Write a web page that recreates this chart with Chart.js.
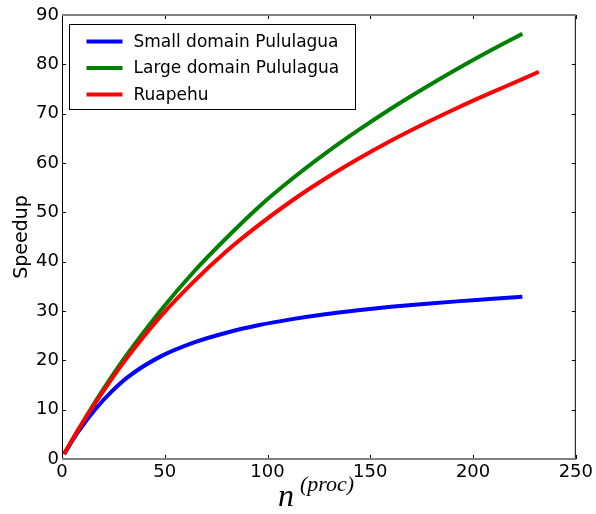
<!DOCTYPE html>
<html>
<head>
<meta charset="utf-8">
<script src="https://cdn.jsdelivr.net/npm/chart.js@4.4.1/dist/chart.umd.min.js"></script>
<style>
  body { margin: 0; background: #fff; }
  canvas { display: block; }
</style>
</head>
<body>
<canvas id="speedupChart" width="596" height="514"></canvas>
<script>
// Speedup against number of processors
const nSmall = [1, 8, 16, 24, 32, 48, 64, 80, 96, 112, 128, 144, 160, 176, 192, 208, 224];
const speedupSmall = [1, 5.6, 10.0, 13.6, 16.6, 20.8, 23.6, 25.6, 27.15, 28.35, 29.35, 30.15, 30.85, 31.43, 31.95, 32.42, 32.9];

const nLarge = [1, 8, 16, 24, 32, 48, 64, 80, 96, 112, 128, 144, 160, 176, 192, 208, 224];
const speedupLarge = [1, 6.0, 11.5, 16.6, 21.4, 30.1, 37.9, 44.8, 51.2, 56.8, 61.9, 66.6, 71.0, 75.1, 79.0, 82.7, 86.2];

const nRuapehu = [1, 8, 16, 24, 32, 48, 64, 80, 96, 112, 128, 144, 160, 176, 192, 208, 224, 232];
const speedupRuapehu = [1, 6.0, 11.2, 16.1, 20.7, 28.9, 35.9, 42.1, 47.5, 52.4, 56.8, 60.8, 64.5, 67.9, 71.1, 74.1, 77.0, 78.5];

const seriesLabels = ['Small domain Pululagua', 'Large domain Pululagua', 'Ruapehu'];
const seriesColors = ['#0000ff', '#008000', '#ff0000'];

const xMax = 250, xStep = 50;
const yMax = 90, yStep = 10;

function toPoints(xs, ys) {
    return xs.map((x, i) => ({ x: x, y: ys[i] }));
}

function makeDataset(idx, xs, ys) {
    return {
        label: seriesLabels[idx],
        data: toPoints(xs, ys),
        borderColor: seriesColors[idx],
        borderWidth: 4,
        pointRadius: 0,
        fill: false,
        cubicInterpolationMode: 'monotone',
        order: 3 - idx
    };
}

// Frame with inward ticks on all four sides
const framePlugin = {
    id: 'frame',
    afterDatasetsDraw(chart) {
        const { ctx, chartArea: a, scales } = chart;
        ctx.save();
        ctx.lineWidth = 1;
        ctx.strokeStyle = '#000';
        for (let v = 0; v <= xMax; v += xStep) {
            const px = Math.round(scales.x.getPixelForValue(v)) + 0.5;
            ctx.beginPath();
            ctx.moveTo(px, a.bottom); ctx.lineTo(px, a.bottom - 4);
            ctx.moveTo(px, a.top); ctx.lineTo(px, a.top + 4);
            ctx.stroke();
        }
        for (let v = 0; v <= yMax; v += yStep) {
            const py = Math.round(scales.y.getPixelForValue(v)) + 0.5;
            ctx.beginPath();
            ctx.moveTo(a.left, py); ctx.lineTo(a.left + 4, py);
            ctx.moveTo(a.right, py); ctx.lineTo(a.right - 4, py);
            ctx.stroke();
        }
        ctx.beginPath();
        ctx.moveTo(a.left + 0.5, a.top); ctx.lineTo(a.left + 0.5, a.bottom);
        ctx.moveTo(a.right - 0.5, a.top); ctx.lineTo(a.right - 0.5, a.bottom);
        ctx.stroke();
        ctx.strokeStyle = '#808080';
        ctx.lineWidth = 2;
        ctx.beginPath();
        ctx.moveTo(a.left, a.top); ctx.lineTo(a.right, a.top);
        ctx.moveTo(a.left, a.bottom); ctx.lineTo(a.right, a.bottom);
        ctx.stroke();
        ctx.restore();
    }
};

// Boxed legend in the upper left corner
const legendPlugin = {
    id: 'boxLegend',
    afterDraw(chart) {
        const { ctx, chartArea: a } = chart;
        const x0 = a.left + 7.5, y0 = a.top + 9.5;
        const w = 286, h = 85;
        ctx.save();
        ctx.fillStyle = '#fff';
        ctx.fillRect(x0, y0, w, h);
        ctx.strokeStyle = '#000';
        ctx.lineWidth = 1;
        ctx.strokeRect(x0, y0, w, h);
        ctx.font = '17px "DejaVu Sans"';
        ctx.textBaseline = 'middle';
        chart.data.datasets.forEach((ds, i) => {
            const y = y0 + 17 + i * 26.5;
            ctx.strokeStyle = ds.borderColor;
            ctx.lineWidth = 4;
            ctx.beginPath();
            ctx.moveTo(x0 + 17, y); ctx.lineTo(x0 + 53, y);
            ctx.stroke();
            ctx.fillStyle = '#000';
            ctx.fillText(ds.label, x0 + 64, y + 1);
        });
        ctx.restore();
    }
};

// x axis label: n with superscript (proc)
const xTitlePlugin = {
    id: 'xTitle',
    afterDraw(chart) {
        const { ctx, chartArea: a } = chart;
        const cx = (a.left + a.right) / 2;
        ctx.save();
        ctx.fillStyle = '#000';
        ctx.textBaseline = 'alphabetic';
        ctx.font = 'italic 32px "Liberation Serif"';
        ctx.fillText('n', cx - 41, 506);
        ctx.font = 'italic 22px "Liberation Serif"';
        ctx.fillText('(proc)', cx - 19, 491);
        ctx.restore();
    }
};

const ctx = document.getElementById('speedupChart').getContext('2d');
new Chart(ctx, {
    type: 'line',
    data: {
        datasets: [
            makeDataset(0, nSmall, speedupSmall),
            makeDataset(1, nLarge, speedupLarge),
            makeDataset(2, nRuapehu, speedupRuapehu)
        ]
    },
    options: {
        responsive: false,
        animation: false,
        layout: { padding: { top: 15, right: 18, bottom: 0, left: 0 } },
        plugins: {
            legend: { display: false },
            tooltip: { enabled: false }
        },
        scales: {
            x: {
                type: 'linear',
                min: 0,
                max: xMax,
                grid: { display: false, drawTicks: false },
                border: { display: false },
                ticks: {
                    stepSize: xStep,
                    maxRotation: 0,
                    padding: 3,
                    color: '#000',
                    font: { family: 'DejaVu Sans', size: 18 }
                },
                afterFit(scale) { scale.height = 55; }
            },
            y: {
                min: 0,
                max: yMax,
                grid: { display: false, drawTicks: false },
                border: { display: false },
                ticks: {
                    stepSize: yStep,
                    padding: 3,
                    color: '#000',
                    font: { family: 'DejaVu Sans', size: 18 }
                },
                title: {
                    display: true,
                    text: 'Speedup',
                    color: '#000',
                    padding: { top: 11, bottom: 0 },
                    font: { family: 'DejaVu Sans', size: 19 }
                },
                afterFit(scale) { scale.width = 62; }
            }
        }
    },
    plugins: [framePlugin, legendPlugin, xTitlePlugin]
});
</script>
</body>
</html>
